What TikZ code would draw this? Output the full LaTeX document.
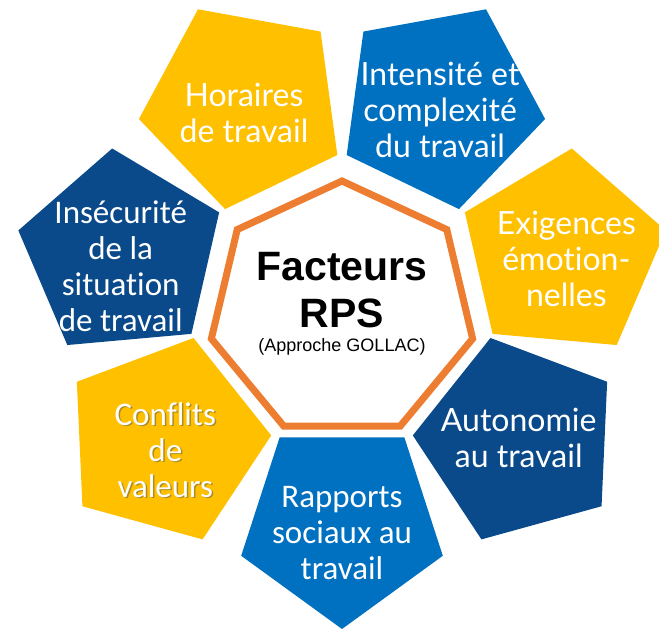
\documentclass[tikz,border=0pt]{standalone}
\usepackage{fontspec}
\setmainfont{Carlito}[Ligatures=NoCommon]
\newfontfamily\latofont{Lato}[Ligatures=NoCommon]
\newfontfamily\arialfont{Liberation Sans}
\usetikzlibrary{shapes.geometric, calc}

\definecolor{jaune}{HTML}{FFC000}
\definecolor{bleu}{HTML}{0070C0}
\definecolor{bleufonce}{HTML}{0A4A8A}
\definecolor{orangerps}{HTML}{ED7D31}

\begin{document}
\begin{tikzpicture}[x=1pt, y=1pt]
        % Styles des pentagones et des textes
        \tikzstyle{pent} = [regular polygon, regular polygon sides=5, minimum size=212pt, inner sep=0pt]
        \tikzstyle{txtlato} = [align=center, text=white, font=\latofont\fontsize{32}{36}\selectfont]
        \tikzstyle{txtcal} = [align=center, text=white, font=\fontsize{33}{36}\selectfont]
        \tikzstyle{hepta} = [draw=orangerps, line width=7pt, fill=white]

        \useasboundingbox (0,0) rectangle (659,-630);

        % Centre
        \coordinate (centre) at (342,-310);
        \coordinate (anneau) at (342,-303);
        \draw [hepta] ($(centre)+(90:134 and 129)$)
          \foreach \k in {1,...,6} { -- ($(centre)+(90+\k*360/7:134 and 129)$) } -- cycle;
        \node [align=center, font=\arialfont\bfseries\fontsize{41}{47}\selectfont] (titre) at (342,-290) {Facteurs\\RPS};
        \node [font=\arialfont\fontsize{18}{20}\selectfont] (approche) at (342,-347) {(Approche GOLLAC)};

        % Pentagones
        \node [pent, fill=jaune, shape border rotate=25.71] (horaires) at ($(anneau)+(115.71:226 and 220)$) {};
        \node [pent, fill=bleu, shape border rotate=-25.71] (intensite) at ($(anneau)+(64.29:226 and 220)$) {};
        \node [pent, fill=jaune, shape border rotate=-77.14] (exigences) at ($(anneau)+(12.86:226 and 220)$) {};
        \node [pent, fill=bleufonce, shape border rotate=231.43] (autonomie) at ($(anneau)+(-38.57:226 and 220)$) {};
        \node [pent, fill=bleu, shape border rotate=180] (rapports) at ($(anneau)+(-90:226 and 220)$) {};
        \node [pent, fill=jaune, shape border rotate=128.57] (conflits) at ($(anneau)+(218.57:226 and 220)$) {};
        \node [pent, fill=bleufonce, shape border rotate=77.14] (insecurite) at ($(anneau)+(167.14:226 and 220)$) {};

        % Textes
        \node [txtlato] (tHoraires) at ([yshift=-8pt]horaires) {Horaires\\de travail};
        \node [txtlato] (tIntensite) at ([yshift=-5pt]intensite) {Intensité et\\complexité\\du travail};
        \node [txtlato] (tExigences) at ([xshift=4pt, yshift=-5pt]exigences) {Exigences\\émotion-\\nelles};
        \node [txtlato] (tAutonomie) at ([yshift=2pt]autonomie) {Autonomie\\au travail};
        \node [txtcal] (tRapports) at ([yshift=-10pt]rapports) {Rapports\\sociaux au\\travail};
        \node [txtcal, text=black!70, opacity=0.45] (ombreConflits) at ([xshift=1.5pt, yshift=-11.5pt]conflits) {Conflits\\de\\valeurs};
        \node [txtcal] (tConflits) at ([yshift=-10pt]conflits) {Conflits\\de\\valeurs};
        \node [txtcal] (tInsecurite) at ([xshift=-1pt, yshift=-12pt]insecurite) {Insécurité\\de la\\situation\\de travail};

\end{tikzpicture}
\end{document}
